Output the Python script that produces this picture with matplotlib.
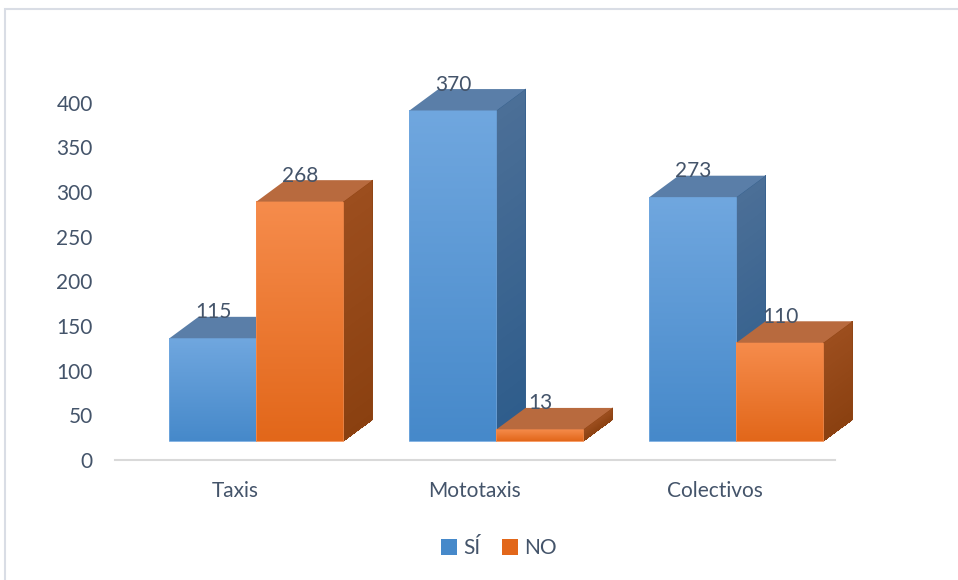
import numpy as np
import matplotlib
matplotlib.use('Agg')
import matplotlib.pyplot as plt
from matplotlib.patches import Polygon, Rectangle, Patch
from matplotlib.colors import LinearSegmentedColormap

categories = ["Taxis", "Mototaxis", "Colectivos"]
series     = ["SÍ", "NO"]
si_vals    = [115, 370, 273]
no_vals    = [268, 13, 110]
yticks     = [0, 50, 100, 150, 200, 250, 300, 350, 400]

TXT = "#44546A"
plt.rcParams['font.family'] = ['Lato', 'DejaVu Sans']

# face colours per series: front gradient (top, bottom), top face, side gradient (top, bottom)
styles = {
    "SÍ": dict(front=("#70A7DF", "#4689CA"), top="#5A7EA8", side=("#4B6F97", "#2E5C8B")),
    "NO": dict(front=("#F68C4C", "#E2671A"), top="#B86A3E", side=("#9C4E1E", "#8A4010")),
}

# 3d look parameters (data units)
FB = 21.3      # front base above axis line
DX = 0.121     # depth in x
DY = 24.0      # depth in y
W  = 0.3625    # bar width
X0 = -0.273    # left of first bar relative to category
NSTRIP = 30

fig = plt.figure(figsize=(9.58, 5.8), dpi=100)
ax = fig.add_axes([115/958, 120/580, 720/958, 393/580])

# outer border
fig.patches.append(Rectangle((5/958, -0.1), 1.2, 1 - 9/580 + 0.1,
                             transform=fig.transFigure, fill=False,
                             edgecolor="#D9DDE5", lw=1.5))

grad = np.linspace(0, 1, 256).reshape(-1, 1)
z = 2
for i in range(len(categories)):
    for j, (name, vals) in enumerate([("SÍ", si_vals), ("NO", no_vals)]):
        st = styles[name]
        v = vals[i]
        x0 = i + X0 + j * W
        x1 = x0 + W
        y0 = FB
        y1 = FB + v
        # front face gradient
        cm = LinearSegmentedColormap.from_list("f", [st["front"][1], st["front"][0]])
        ax.imshow(grad, cmap=cm, extent=[x0, x1, y0, y1], aspect='auto',
                  origin='lower', zorder=z, interpolation='bilinear')
        ax.add_patch(Rectangle((x0, y0), W, v, fill=False,
                               edgecolor=st["front"][0], lw=0.6, zorder=z + 0.1))
        # side face as overlapping strips (gradient bottom -> top)
        cm_s = LinearSegmentedColormap.from_list("s", [st["side"][1], st["side"][0]])
        hs = np.linspace(0, 1, NSTRIP + 1)
        for k in range(NSTRIP):
            ya = y0 + hs[k] * v
            yb = min(y0 + hs[k + 1] * v + v / NSTRIP, y1)
            ax.add_patch(Polygon([(x1, ya), (x1 + DX, ya + DY), (x1 + DX, yb + DY), (x1, yb)],
                                 closed=True, facecolor=cm_s((k + 0.5) / NSTRIP),
                                 edgecolor="none", antialiased=False,
                                 zorder=z, clip_on=False))
        ax.add_patch(Polygon([(x1, y0), (x1 + DX, y0 + DY), (x1 + DX, y1 + DY), (x1, y1)],
                             closed=True, facecolor="none", edgecolor=cm_s(0.3),
                             lw=0.6, zorder=z, clip_on=False))
        # top face
        ax.add_patch(Polygon([(x0, y1), (x1, y1), (x1 + DX, y1 + DY), (x0 + DX, y1 + DY)],
                             closed=True, facecolor=st["top"], edgecolor="none",
                             zorder=z + 0.2, clip_on=False))
        # value label
        ax.text((x0 + x1) / 2, y1 + DY + 5, str(v), ha='center', va='center',
                fontsize=15, color=TXT, zorder=20)
        z += 1

ax.set_xlim(-0.5, 2.5)
ax.set_ylim(0, 440)
ax.set_yticks(yticks)
ax.set_yticklabels([str(t) for t in yticks])
ax.set_xticks(range(len(categories)))
ax.set_xticklabels(categories)
ax.tick_params(axis='y', length=0, pad=16, labelsize=15, labelcolor=TXT)
ax.tick_params(axis='x', length=0, pad=15, labelsize=15, labelcolor=TXT)
for s in ["top", "right", "left"]:
    ax.spines[s].set_visible(False)
ax.spines["bottom"].set_color("#D9D9D9")
ax.spines["bottom"].set_linewidth(1.5)
ax.set_facecolor("none")

handles = [Patch(facecolor=styles[s]["front"][1], edgecolor="none", label=s) for s in series]
fig.legend(handles=handles, loc='center', bbox_to_anchor=(499/958, 1 - 548/580),
           ncol=2, frameon=False, fontsize=15, labelcolor=TXT,
           handlelength=0.8, handleheight=0.8, handletextpad=0.3, columnspacing=1.0)

fig.savefig("out.png", dpi=100)
